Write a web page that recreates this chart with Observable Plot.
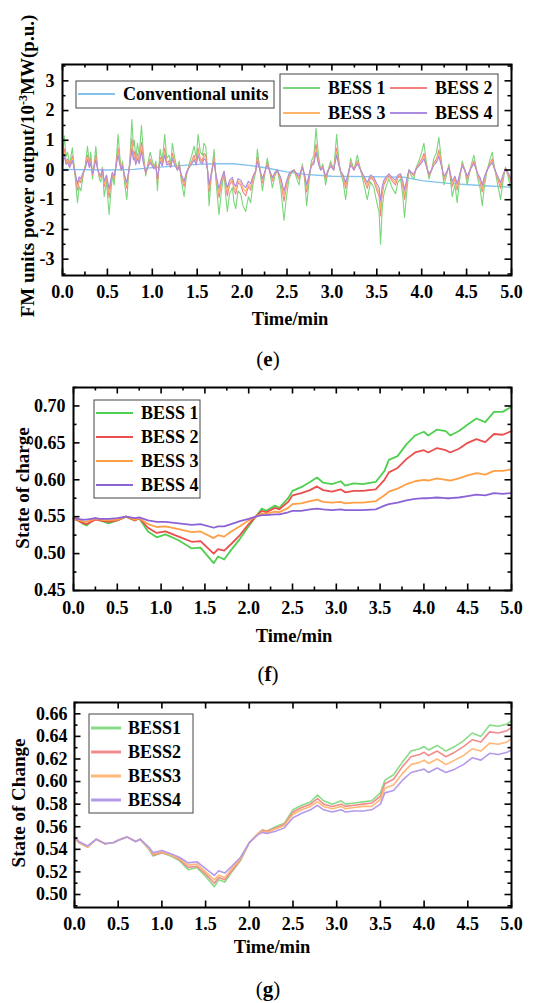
<!DOCTYPE html>
<html><head><meta charset="utf-8">
<script src="https://cdn.jsdelivr.net/npm/d3@7"></script>
<script src="https://cdn.jsdelivr.net/npm/@observablehq/plot@0.6"></script>
<style>
body{margin:0;background:#fff;}
#root{position:relative;width:556px;height:1003px;overflow:hidden;font-family:"Liberation Serif","Times New Roman",serif;}
.panel{position:absolute;left:0;}
.panel svg, .panel svg text{font-family:"Liberation Serif","Times New Roman",serif !important;}
.cap{position:absolute;left:0;width:536px;text-align:center;font-size:21px;line-height:24px;color:#000;}
</style></head><body><div id="root"></div>
<script>
// ---------- shared ticks ----------
const xMajor = [0,0.5,1,1.5,2,2.5,3,3.5,4,4.5,5];
const xMinor = [0.25,0.75,1.25,1.75,2.25,2.75,3.25,3.75,4.25,4.75];

// ---------- panel (e): FM units power output ----------
const tE = [0,0.02,0.04,0.056,0.08,0.11,0.14,0.167,0.185,0.204,
 0.23,0.255,0.278,0.30,0.315,0.334,0.352,0.371,0.39,0.41,
 0.427,0.445,0.464,0.49,0.519,0.54,0.555,0.575,0.60,0.619,
 0.64,0.655,0.668,0.69,0.716,0.735,0.755,0.772,0.79,0.80,
 0.816,0.835,0.855,0.879,0.90,0.927,0.95,0.976,1.00,1.02,
 1.04,1.057,1.075,1.087,1.11,1.139,1.16,1.187,1.205,1.224,
 1.25,1.28,1.30,1.32,1.354,1.38,1.41,1.44,1.465,1.49,
 1.51,1.535,1.558,1.575,1.595,1.615,1.632,1.655,1.688,1.71,
 1.743,1.77,1.799,1.815,1.836,1.86,1.892,1.91,1.929,1.955,
 1.984,2.01,2.04,2.07,2.096,2.115,2.133,2.15,2.17,2.195,
 2.226,2.25,2.281,2.31,2.337,2.365,2.392,2.43,2.467,2.49,
 2.522,2.55,2.578,2.61,2.634,2.655,2.671,2.695,2.719,2.745,
 2.771,2.80,2.823,2.85,2.875,2.90,2.93,2.96,2.986,3.02,
 3.053,3.075,3.097,3.125,3.153,3.18,3.208,3.245,3.283,3.32,
 3.357,3.394,3.43,3.468,3.50,3.525,3.542,3.56,3.579,3.61,
 3.635,3.67,3.709,3.735,3.765,3.79,3.809,3.835,3.858,3.885,
 3.913,3.94,3.969,4.00,4.025,4.05,4.08,4.11,4.136,4.165,
 4.191,4.22,4.247,4.275,4.303,4.32,4.34,4.37,4.395,4.42,
 4.451,4.48,4.507,4.545,4.581,4.60,4.625,4.65,4.674,4.70,
 4.729,4.755,4.785,4.81,4.84,4.86,4.878,4.905,4.933,4.96,
 4.989,5.00];
const bess1E = [0.30,1.15,0.45,0.60,0.20,0.75,-0.20,-1.10,-0.55,-0.70,
 -0.20,0.20,0.80,0.20,0.60,-0.30,0.20,0.80,0.10,-0.30,
 -0.40,0.10,-0.90,-0.40,-1.50,-0.70,-0.20,-0.50,0.40,1.20,
 0.40,0.00,0.30,-0.40,-1.00,-0.20,0.60,1.70,0.80,1.00,
 0.40,0.90,0.50,1.50,0.60,-0.20,0.20,0.60,0.30,0.10,
 0.30,-0.70,0.20,0.70,0.30,1.20,0.40,0.50,0.20,0.90,
 0.40,0.00,0.30,-0.30,-0.90,-0.20,0.20,0.50,0.80,0.40,
 1.20,0.60,0.50,0.90,0.80,0.00,-1.20,-0.30,0.70,-0.40,
 -1.50,-0.70,-0.10,-0.80,-1.40,-0.80,-0.60,-1.10,-1.30,-0.70,
 -0.80,-1.20,-1.40,-0.90,-1.10,-0.60,-0.30,-0.10,0.70,0.10,
 -0.70,-0.20,0.40,-0.10,-0.60,-0.20,0.00,-0.60,-1.70,-1.00,
 -0.30,-0.10,0.00,-0.30,-0.50,-0.10,0.20,-0.30,-1.20,-0.40,
 0.30,0.50,1.40,0.50,0.00,0.20,-0.50,0.00,0.30,0.00,
 1.20,0.40,-0.10,-0.40,-1.00,-0.30,0.40,0.00,0.50,0.00,
 -0.50,-1.00,-0.40,-0.60,-1.10,-1.40,-2.50,-1.30,-0.80,-0.50,
 -0.30,-0.60,-0.80,-0.40,-0.30,-0.90,-1.60,-0.70,0.00,-0.20,
 -0.30,0.10,0.30,0.60,0.90,0.30,-0.30,0.00,0.40,0.60,
 1.10,0.30,-0.50,-0.20,0.20,-0.30,-0.90,-0.50,-1.10,-0.40,
 0.30,0.00,-0.50,0.10,0.50,0.20,-0.30,-0.60,-1.20,-0.50,
 0.00,0.30,0.60,0.10,-0.40,-0.70,-1.00,-0.40,0.10,-0.20,
 -0.60,-0.50];
const bess2E = [0.19,0.71,0.28,0.37,0.12,0.47,-0.12,-0.68,-0.34,-0.43,
 -0.12,0.12,0.50,0.12,0.37,-0.19,0.12,0.50,0.06,-0.19,
 -0.25,0.06,-0.56,-0.25,-0.93,-0.43,-0.12,-0.31,0.25,0.74,
 0.25,0.00,0.19,-0.25,-0.62,-0.12,0.37,1.05,0.50,0.62,
 0.25,0.56,0.31,0.93,0.37,-0.12,0.12,0.37,0.19,0.06,
 0.19,-0.43,0.12,0.43,0.19,0.74,0.25,0.31,0.12,0.56,
 0.25,0.00,0.19,-0.19,-0.56,-0.12,0.12,0.31,0.50,0.25,
 0.74,0.37,0.31,0.56,0.50,0.00,-0.74,-0.19,0.43,-0.25,
 -0.93,-0.43,-0.06,-0.50,-0.87,-0.50,-0.37,-0.68,-0.81,-0.43,
 -0.50,-0.74,-0.87,-0.56,-0.68,-0.37,-0.19,-0.06,0.43,0.06,
 -0.43,-0.12,0.25,-0.06,-0.37,-0.12,0.00,-0.37,-1.05,-0.62,
 -0.19,-0.06,0.00,-0.19,-0.31,-0.06,0.12,-0.19,-0.74,-0.25,
 0.19,0.31,0.87,0.31,0.00,0.12,-0.31,0.00,0.19,0.00,
 0.74,0.25,-0.06,-0.25,-0.62,-0.19,0.25,0.00,0.31,0.00,
 -0.31,-0.62,-0.25,-0.37,-0.68,-0.87,-1.55,-0.81,-0.50,-0.31,
 -0.19,-0.37,-0.50,-0.25,-0.19,-0.56,-0.99,-0.43,0.00,-0.12,
 -0.19,0.06,0.19,0.37,0.56,0.19,-0.19,0.00,0.25,0.37,
 0.68,0.19,-0.31,-0.12,0.12,-0.19,-0.56,-0.31,-0.68,-0.25,
 0.19,0.00,-0.31,0.06,0.31,0.12,-0.19,-0.37,-0.74,-0.31,
 0.00,0.19,0.37,0.06,-0.25,-0.43,-0.62,-0.25,0.06,-0.12,
 -0.37,-0.31];
const bess3E = [0.16,0.60,0.23,0.31,0.10,0.39,-0.10,-0.57,-0.29,-0.36,
 -0.10,0.10,0.42,0.10,0.31,-0.16,0.10,0.42,0.05,-0.16,
 -0.21,0.05,-0.47,-0.21,-0.78,-0.36,-0.10,-0.26,0.21,0.62,
 0.21,0.00,0.16,-0.21,-0.52,-0.10,0.31,0.88,0.42,0.52,
 0.21,0.47,0.26,0.78,0.31,-0.10,0.10,0.31,0.16,0.05,
 0.16,-0.36,0.10,0.36,0.16,0.62,0.21,0.26,0.10,0.47,
 0.21,0.00,0.16,-0.16,-0.47,-0.10,0.10,0.26,0.42,0.21,
 0.62,0.31,0.26,0.47,0.42,0.00,-0.62,-0.16,0.36,-0.21,
 -0.78,-0.36,-0.05,-0.42,-0.73,-0.42,-0.31,-0.57,-0.68,-0.36,
 -0.42,-0.62,-0.73,-0.47,-0.57,-0.31,-0.16,-0.05,0.36,0.05,
 -0.36,-0.10,0.21,-0.05,-0.31,-0.10,0.00,-0.31,-0.88,-0.52,
 -0.16,-0.05,0.00,-0.16,-0.26,-0.05,0.10,-0.16,-0.62,-0.21,
 0.16,0.26,0.73,0.26,0.00,0.10,-0.26,0.00,0.16,0.00,
 0.62,0.21,-0.05,-0.21,-0.52,-0.16,0.21,0.00,0.26,0.00,
 -0.26,-0.52,-0.21,-0.31,-0.57,-0.73,-1.30,-0.68,-0.42,-0.26,
 -0.16,-0.31,-0.42,-0.21,-0.16,-0.47,-0.83,-0.36,0.00,-0.10,
 -0.16,0.05,0.16,0.31,0.47,0.16,-0.16,0.00,0.21,0.31,
 0.57,0.16,-0.26,-0.10,0.10,-0.16,-0.47,-0.26,-0.57,-0.21,
 0.16,0.00,-0.26,0.05,0.26,0.10,-0.16,-0.31,-0.62,-0.26,
 0.00,0.16,0.31,0.05,-0.21,-0.36,-0.52,-0.21,0.05,-0.10,
 -0.31,-0.26];
const bess4E = [0.13,0.48,0.19,0.25,0.08,0.32,-0.08,-0.46,-0.23,-0.29,
 -0.08,0.08,0.34,0.08,0.25,-0.13,0.08,0.34,0.04,-0.13,
 -0.17,0.04,-0.38,-0.17,-0.63,-0.29,-0.08,-0.21,0.17,0.50,
 0.17,0.00,0.13,-0.17,-0.42,-0.08,0.25,0.71,0.34,0.42,
 0.17,0.38,0.21,0.63,0.25,-0.08,0.08,0.25,0.13,0.04,
 0.13,-0.29,0.08,0.29,0.13,0.50,0.17,0.21,0.08,0.38,
 0.17,0.00,0.13,-0.13,-0.38,-0.08,0.08,0.21,0.34,0.17,
 0.50,0.25,0.21,0.38,0.34,0.00,-0.50,-0.13,0.29,-0.17,
 -0.63,-0.29,-0.04,-0.34,-0.59,-0.34,-0.25,-0.46,-0.55,-0.29,
 -0.34,-0.50,-0.59,-0.38,-0.46,-0.25,-0.13,-0.04,0.29,0.04,
 -0.29,-0.08,0.17,-0.04,-0.25,-0.08,0.00,-0.25,-0.71,-0.42,
 -0.13,-0.04,0.00,-0.13,-0.21,-0.04,0.08,-0.13,-0.50,-0.17,
 0.13,0.21,0.59,0.21,0.00,0.08,-0.21,0.00,0.13,0.00,
 0.50,0.17,-0.04,-0.17,-0.42,-0.13,0.17,0.00,0.21,0.00,
 -0.21,-0.42,-0.17,-0.25,-0.46,-0.59,-1.05,-0.55,-0.34,-0.21,
 -0.13,-0.25,-0.34,-0.17,-0.13,-0.38,-0.67,-0.29,0.00,-0.08,
 -0.13,0.04,0.13,0.25,0.38,0.13,-0.13,0.00,0.17,0.25,
 0.46,0.13,-0.21,-0.08,0.08,-0.13,-0.38,-0.21,-0.46,-0.17,
 0.13,0.00,-0.21,0.04,0.21,0.08,-0.13,-0.25,-0.50,-0.21,
 0.00,0.13,0.25,0.04,-0.17,-0.29,-0.42,-0.17,0.04,-0.08,
 -0.25,-0.21];
const tConv = [0,0.5,0.8,1.0,1.2,1.5,1.7,1.9,2.1,2.3,2.5,2.7,3.0,3.4,3.8,4.0,4.3,4.7,5.0];
const convE = [0.02,0,0.02,0.08,0.12,0.19,0.21,0.21,0.15,0.05,-0.06,-0.15,-0.21,-0.22,-0.24,-0.36,-0.45,-0.53,-0.58];
const yMajorE = [-3,-2,-1,0,1,2,3];
const yMinorE = [-3.5,-2.5,-1.5,-0.5,0.5,1.5,2.5,3.5];

// ---------- panel (f): State of charge ----------
const tF = [0,0.05,0.1,0.15,0.2,0.25,0.3,0.4,0.5,0.6,
 0.7,0.75,0.85,0.95,1.05,1.2,1.35,1.45,1.6,1.65,
 1.72,1.8,1.9,2.0,2.08,2.15,2.2,2.3,2.35,2.45,
 2.5,2.6,2.7,2.78,2.85,2.95,3.05,3.1,3.2,3.3,
 3.45,3.55,3.6,3.7,3.8,3.9,4.0,4.05,4.15,4.25,
 4.3,4.4,4.5,4.6,4.7,4.8,4.9,5.0];
const bess1F = [0.548,0.545,0.541,0.538,0.543,0.548,0.545,0.541,0.545,0.550,
 0.545,0.548,0.530,0.522,0.526,0.518,0.507,0.508,0.487,0.496,
 0.492,0.505,0.520,0.537,0.550,0.561,0.558,0.565,0.562,0.575,
 0.585,0.590,0.597,0.603,0.596,0.594,0.598,0.592,0.595,0.594,
 0.597,0.612,0.627,0.632,0.648,0.660,0.665,0.660,0.668,0.666,
 0.660,0.666,0.675,0.683,0.678,0.692,0.692,0.699];
const bess2F = [0.547,0.545,0.542,0.540,0.543,0.546,0.545,0.543,0.545,0.550,
 0.545,0.548,0.535,0.528,0.530,0.523,0.516,0.517,0.500,0.506,
 0.504,0.513,0.525,0.540,0.550,0.558,0.556,0.562,0.560,0.570,
 0.579,0.582,0.586,0.591,0.586,0.584,0.587,0.583,0.585,0.585,
 0.587,0.600,0.610,0.616,0.628,0.637,0.640,0.637,0.643,0.640,
 0.637,0.642,0.650,0.655,0.651,0.662,0.661,0.666];
const bess3F = [0.547,0.546,0.544,0.543,0.545,0.547,0.546,0.545,0.546,0.550,
 0.546,0.548,0.540,0.536,0.537,0.533,0.529,0.530,0.521,0.525,
 0.523,0.530,0.537,0.545,0.550,0.554,0.554,0.557,0.556,0.562,
 0.567,0.568,0.571,0.573,0.570,0.569,0.570,0.568,0.569,0.569,
 0.571,0.579,0.584,0.588,0.594,0.598,0.600,0.599,0.602,0.600,
 0.599,0.602,0.606,0.609,0.607,0.612,0.612,0.614];
const bess4F = [0.548,0.547,0.546,0.546,0.547,0.548,0.547,0.547,0.548,0.550,
 0.548,0.549,0.545,0.543,0.543,0.541,0.539,0.540,0.535,0.537,
 0.537,0.540,0.544,0.547,0.550,0.552,0.552,0.553,0.553,0.556,
 0.558,0.558,0.560,0.561,0.560,0.559,0.560,0.559,0.559,0.559,
 0.560,0.565,0.567,0.569,0.572,0.574,0.575,0.575,0.576,0.575,
 0.575,0.576,0.578,0.580,0.579,0.582,0.581,0.582];
const yMajorF = [0.45,0.50,0.55,0.60,0.65,0.70];
const yMinorF = [0.475,0.525,0.575,0.625,0.675,0.725];

// ---------- panel (g): State of Change ----------
const tG = [0,0.05,0.15,0.25,0.35,0.45,0.5,0.6,0.7,0.75,
 0.85,0.9,1.0,1.1,1.2,1.3,1.4,1.5,1.6,1.65,
 1.72,1.8,1.9,2.0,2.1,2.15,2.2,2.3,2.4,2.5,
 2.6,2.7,2.78,2.85,2.95,3.05,3.1,3.2,3.3,3.4,
 3.5,3.55,3.65,3.75,3.85,3.95,4.0,4.05,4.15,4.25,
 4.35,4.45,4.55,4.65,4.75,4.85,4.95,5.0];
const bess1G = [0.550,0.546,0.542,0.549,0.545,0.546,0.548,0.551,0.547,0.549,
 0.540,0.534,0.537,0.534,0.530,0.522,0.524,0.516,0.507,0.513,
 0.511,0.520,0.530,0.546,0.554,0.557,0.556,0.560,0.563,0.575,
 0.579,0.582,0.588,0.583,0.580,0.583,0.580,0.581,0.582,0.583,
 0.590,0.601,0.606,0.617,0.627,0.629,0.631,0.628,0.632,0.627,
 0.631,0.636,0.643,0.640,0.650,0.649,0.651,0.654];
const bess2G = [0.550,0.546,0.542,0.549,0.545,0.546,0.548,0.551,0.547,0.549,
 0.541,0.535,0.537,0.535,0.531,0.524,0.525,0.518,0.510,0.515,
 0.513,0.521,0.531,0.546,0.554,0.557,0.556,0.559,0.562,0.573,
 0.577,0.580,0.585,0.580,0.578,0.580,0.578,0.579,0.580,0.581,
 0.587,0.598,0.602,0.613,0.622,0.624,0.626,0.623,0.627,0.622,
 0.626,0.631,0.637,0.635,0.644,0.643,0.645,0.648];
const bess3G = [0.550,0.546,0.542,0.549,0.545,0.546,0.548,0.551,0.547,0.549,
 0.541,0.536,0.538,0.535,0.532,0.526,0.527,0.520,0.513,0.517,
 0.515,0.523,0.532,0.546,0.554,0.556,0.555,0.558,0.561,0.571,
 0.575,0.578,0.582,0.578,0.576,0.578,0.576,0.577,0.578,0.578,
 0.584,0.594,0.597,0.607,0.615,0.617,0.619,0.616,0.620,0.615,
 0.619,0.623,0.629,0.627,0.634,0.633,0.635,0.638];
const bess4G = [0.551,0.547,0.543,0.549,0.545,0.546,0.548,0.551,0.547,0.549,
 0.542,0.537,0.539,0.536,0.533,0.528,0.529,0.523,0.517,0.521,
 0.519,0.525,0.533,0.546,0.553,0.555,0.554,0.556,0.559,0.568,
 0.572,0.575,0.579,0.575,0.573,0.575,0.573,0.574,0.574,0.575,
 0.580,0.590,0.592,0.601,0.608,0.610,0.611,0.608,0.612,0.608,
 0.611,0.615,0.621,0.619,0.625,0.624,0.626,0.628];
const yMajorG = [0.50,0.52,0.54,0.56,0.58,0.60,0.62,0.64,0.66];
const yMinorG = [0.49,0.51,0.53,0.55,0.57,0.59,0.61,0.63,0.65,0.67];

const namesE = ["BESS 1","BESS 2","BESS 3","BESS 4"];
const namesG = ["BESS1","BESS2","BESS3","BESS4"];
const colorsE = ["#7ad67a","#f28282","#ffb46a","#ab8ae2"];
const convColor = "#82c2ee";
const colorsF = ["#4fcf4f","#ec4d4d","#ff9f45","#8c63d6"];
const colorsG = ["#88dc88","#f28c8c","#ffb878","#b59ae8"];

// ---------- builder ----------
const W = 556;
const FONT = '"Liberation Serif","Times New Roman",serif';
const TICKFS = 18, LEGFS = 18;
const minusFmt = d => (d < 0 ? "-" + Math.abs(d) : String(d));

function buildPanel(c) {
  const innerW = W - c.ml - c.mr, innerH = c.height - c.mt - c.mb;
  const marks = [];
  for (const s of c.series) {
    const rows = s.t.map((t, i) => ({t, v: s.v[i]}));
    marks.push(Plot.line(rows, {x: "t", y: "v", stroke: s.color, strokeWidth: s.width}));
  }
  const tk = {stroke: "#000", strokeWidth: 1.6};
  const xs = [[xMajor, 6.5], [c.xMinor, 3.5]];
  for (const [arr, len] of xs) if (arr.length) {
    marks.push(Plot.tickX(arr, {x: d => d, insetTop: innerH - len, ...tk}));
    marks.push(Plot.tickX(arr, {x: d => d, insetBottom: innerH - len, ...tk}));
  }
  const ys = [[c.yMajor, 6.5], [c.yMinor, 3.5]];
  for (const [arr, len] of ys) if (arr.length) {
    marks.push(Plot.tickY(arr, {y: d => d, insetRight: innerW - len, ...tk}));
    marks.push(Plot.tickY(arr, {y: d => d, insetLeft: innerW - len, ...tk}));
  }
  marks.push(Plot.axisX(xMajor, {tickSize: 0, tickPadding: c.xPad, tickFormat: d => d.toFixed(1), fontSize: TICKFS, fontWeight: "bold", fontFamily: FONT, fill: "#000", label: null}));
  marks.push(Plot.axisY(c.yMajor, {tickSize: 0, tickPadding: c.yPad, tickFormat: c.yFmt, fontSize: TICKFS, fontWeight: "bold", fontFamily: FONT, fill: "#000", label: null}));
  marks.push(Plot.frame({stroke: "#000", strokeWidth: 2}));
  const svg = Plot.plot({
    width: W, height: c.height,
    marginTop: c.mt, marginBottom: c.mb, marginLeft: c.ml, marginRight: c.mr,
    x: {domain: [0, 5]}, y: {domain: c.yDomain},
    style: {fontFamily: FONT, fontWeight: "bold", fontSize: "17px", background: "transparent", overflow: "visible", color: "#000"},
    marks
  });
  svg.style.fontFamily = FONT;
  const g = d3.select(svg);
  // x label
  g.append("text").attr("x", c.xLabelX).attr("y", c.xLabelY).attr("text-anchor", "middle")
    .attr("font-family", FONT).attr("font-size", 18.5).attr("font-weight", "bold").attr("fill", "#000").text("Time/min");
  // y label
  const yl = g.append("text").attr("transform", `translate(${c.yLabelX},${c.yLabelY}) rotate(-90)`)
    .attr("text-anchor", "middle").attr("font-family", FONT).attr("font-size", 19).attr("font-weight", "bold").attr("fill", "#000");
  c.yLabel(yl);
  // legends
  for (const L of c.legends) {
    g.append("rect").attr("x", L.box[0]).attr("y", L.box[1]).attr("width", L.box[2]).attr("height", L.box[3])
      .attr("fill", "#fff").attr("stroke", "#444").attr("stroke-width", 1);
    for (const it of L.items) {
      g.append("line").attr("x1", it.x).attr("x2", it.x + L.len).attr("y1", it.y).attr("y2", it.y)
        .attr("stroke", it.color).attr("stroke-width", L.lw);
      g.append("text").attr("x", it.x + L.len + L.gap).attr("y", it.y).attr("dy", "0.35em")
        .attr("text-anchor", "start").attr("font-family", FONT)
        .attr("font-size", LEGFS).attr("font-weight", "bold").attr("fill", "#000").text(it.name);
    }
  }
  const div = document.createElement("div");
  div.className = "panel";
  div.style.top = c.top + "px";
  div.appendChild(svg);
  return div;
}

const root = document.getElementById("root");

// (e)
root.appendChild(buildPanel({
  top: 0, height: 335, mt: 64, mb: 60, ml: 62, mr: 45,
  yDomain: [-3.55, 3.55], yMajor: yMajorE, yMinor: yMinorE, xMinor: xMinor, yFmt: minusFmt,
  xPad: 10, yPad: 8,
  series: [
    {t: tConv, v: convE, color: convColor, width: 1.3},
    {t: tE, v: bess1E, color: colorsE[0], width: 1.1},
    {t: tE, v: bess2E, color: colorsE[1], width: 1.1},
    {t: tE, v: bess3E, color: colorsE[2], width: 1.1},
    {t: tE, v: bess4E, color: colorsE[3], width: 1.1}
  ],
  xLabelX: 290, xLabelY: 325, yLabelX: 34, yLabelY: 166,
  yLabel: t => {
    t.append("tspan").text("FM units power output/10");
    t.append("tspan").attr("dy", -7).attr("font-size", 12).text("-3");
    t.append("tspan").attr("dy", 7).text("MW(p.u.)");
  },
  legends: [
    {box: [76, 81, 198, 27], len: 37, gap: 8, lw: 2, items: [{x: 78, y: 94, name: "Conventional units", color: convColor}]},
    {box: [280, 74, 218, 52], len: 37, gap: 8, lw: 2, items: [
      {x: 283, y: 88, name: namesE[0], color: colorsE[0]},
      {x: 390, y: 88, name: namesE[1], color: colorsE[1]},
      {x: 283, y: 113, name: namesE[2], color: colorsE[2]},
      {x: 390, y: 113, name: namesE[3], color: colorsE[3]}
    ]}
  ]
}));

// (f)
root.appendChild(buildPanel({
  top: 340, height: 320, mt: 47, mb: 70, ml: 73, mr: 45,
  yDomain: [0.45, 0.725], yMajor: yMajorF, yMinor: yMinorF, xMinor: xMinor, yFmt: d => d.toFixed(2),
  xPad: 11, yPad: 8,
  series: [
    {t: tF, v: bess1F, color: colorsF[0], width: 1.8},
    {t: tF, v: bess2F, color: colorsF[1], width: 1.8},
    {t: tF, v: bess3F, color: colorsF[2], width: 1.8},
    {t: tF, v: bess4F, color: colorsF[3], width: 1.8}
  ],
  xLabelX: 294, xLabelY: 302, yLabelX: 29, yLabelY: 148,
  yLabel: t => t.text("State of charge"),
  legends: [
    {box: [94, 60, 106, 98], len: 37, gap: 8, lw: 2.2, items: namesE.map((n, i) => ({x: 96, y: 73 + i * 24, name: n, color: colorsF[i]}))}
  ]
}));

// (g)
root.appendChild(buildPanel({
  top: 660, height: 343, mt: 42, mb: 96, ml: 74, mr: 45,
  yDomain: [0.4885, 0.67], yMajor: yMajorG, yMinor: yMinorG, xMinor: [], yFmt: d => d.toFixed(2),
  xPad: 9.5, yPad: 7,
  series: [
    {t: tG, v: bess1G, color: colorsG[0], width: 1.6},
    {t: tG, v: bess2G, color: colorsG[1], width: 1.6},
    {t: tG, v: bess3G, color: colorsG[2], width: 1.6},
    {t: tG, v: bess4G, color: colorsG[3], width: 1.6}
  ],
  xLabelX: 272, xLabelY: 293, yLabelX: 25, yLabelY: 143,
  yLabel: t => t.text("State of Change"),
  legends: [
    {box: [89, 54, 104, 99], len: 30, gap: 7, lw: 3, items: namesG.map((n, i) => ({x: 91, y: 68 + i * 24, name: n, color: colorsG[i]}))}
  ]
}));

// captions
for (const [letter, cy] of [["e", 359], ["f", 674], ["g", 989]]) {
  const d = document.createElement("div");
  d.className = "cap";
  d.style.top = (cy - 12) + "px";
  d.innerHTML = `(<b>${letter}</b>)`;
  root.appendChild(d);
}
</script>
</body></html>
